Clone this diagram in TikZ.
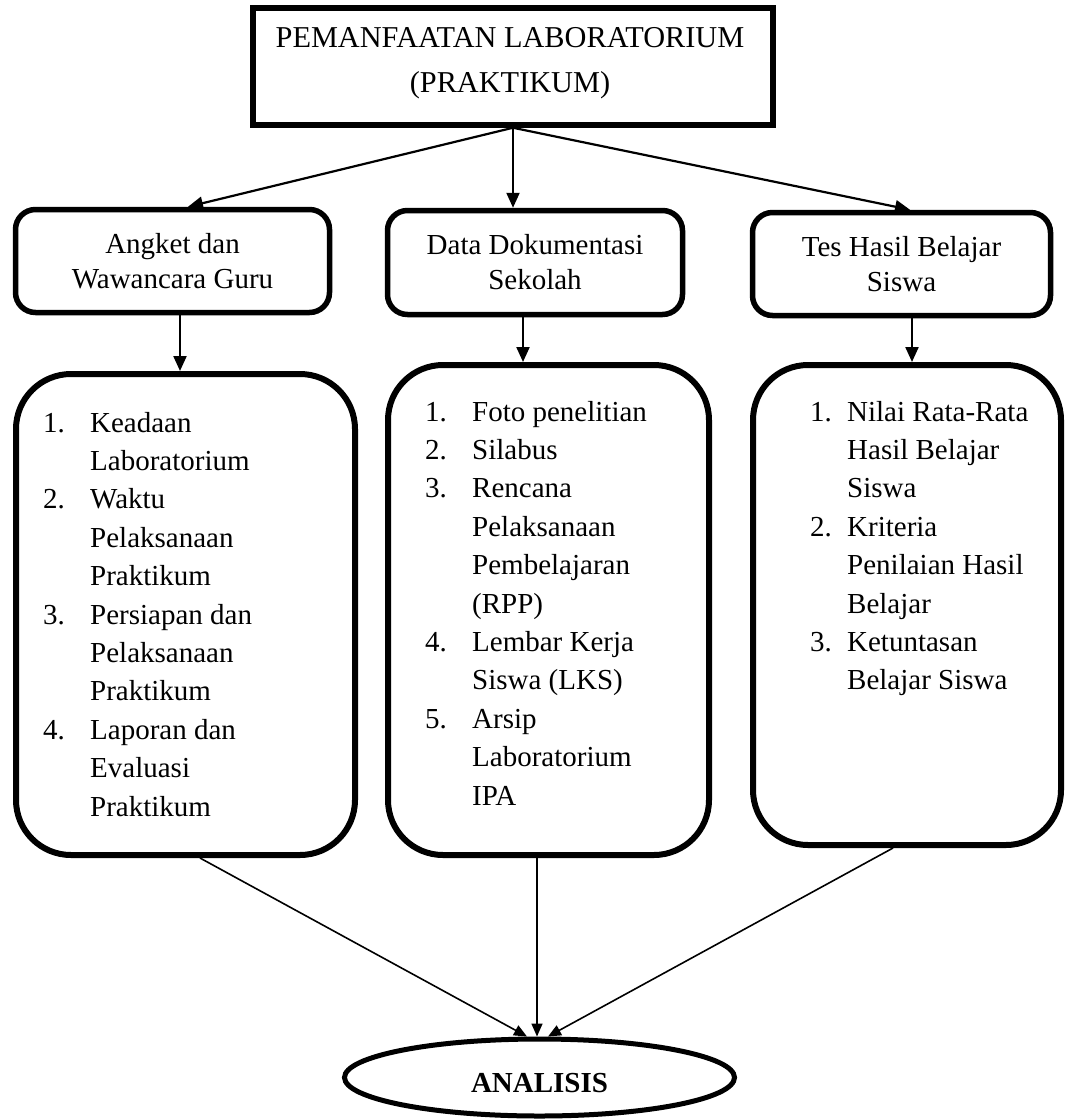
\documentclass[tikz,border=0pt]{standalone}
\usepackage{fontspec}
\setmainfont{Liberation Serif}
\usetikzlibrary{arrows.meta,shapes.geometric}
\begin{document}
\begin{tikzpicture}[x=1pt,y=-1pt,
  thickbox/.style={draw,line width=5.5pt,inner sep=0pt},
  smallbox/.style={thickbox,rounded corners=20pt,align=center,font=\fontsize{29}{35}\selectfont},
  bigbox/.style={draw,line width=6pt,rounded corners=55pt,inner sep=0pt},
  listtext/.style={anchor=north west,inner sep=0pt,font=\fontsize{29}{38.4}\selectfont},
  arr/.style={-{Triangle[length=15pt,width=13pt]},line width=2.2pt},
  arrthin/.style={-{Triangle[length=13pt,width=11pt]},line width=1.6pt}]

\useasboundingbox (0,0) rectangle (1065,1119);

% top box
\node[thickbox,minimum width=520pt,minimum height=117pt] (top) at (513,66.5) {};
\node[anchor=north,inner sep=0pt,font=\fontsize{30.3}{45}\selectfont] (ttl) at (510,15.5)
  {\begin{tabular}{@{}c@{}}PEMANFAATAN LABORATORIUM\\(PRAKTIKUM)\end{tabular}};

% small boxes
\node[smallbox,minimum width=314pt,minimum height=103pt] (ls) at (172.5,261) {Angket dan\\Wawancara Guru};
\node[smallbox,minimum width=295pt,minimum height=104pt] (ms) at (535,262.5) {Data Dokumentasi\\Sekolah};
\node[smallbox,minimum width=298pt,minimum height=103pt] (rs) at (901.5,264) {Tes Hasil Belajar\\Siswa};

% big boxes
\node[bigbox,minimum width=339pt,minimum height=481pt] (lb) at (185.5,614.5) {};
\node[bigbox,minimum width=321pt,minimum height=490pt] (mb) at (548.5,610) {};
\node[bigbox,minimum width=308pt,minimum height=480pt] (rb) at (907,605) {};

% lists
\node[listtext] (lt) at (43,405.1) {\begin{tabular}{@{}p{47pt}@{}l@{}}
1.&Keadaan\\&Laboratorium\\2.&Waktu\\&Pelaksanaan\\&Praktikum\\
3.&Persiapan dan\\&Pelaksanaan\\&Praktikum\\4.&Laporan dan\\&Evaluasi\\&Praktikum\end{tabular}};
\node[listtext] (mt) at (425,394.1) {\begin{tabular}{@{}p{47pt}@{}l@{}}
1.&Foto penelitian\\2.&Silabus\\3.&Rencana\\&Pelaksanaan\\&Pembelajaran\\&(RPP)\\
4.&Lembar Kerja\\&Siswa (LKS)\\5.&Arsip\\&Laboratorium\\&IPA\end{tabular}};
\node[listtext] (rt) at (810,394.1) {\begin{tabular}{@{}p{37pt}@{}l@{}}
1.&Nilai Rata-Rata\\&Hasil Belajar\\&Siswa\\2.&Kriteria\\&Penilaian Hasil\\&Belajar\\
3.&Ketuntasan\\&Belajar Siswa\end{tabular}};

% ellipse
\node[draw,ellipse,line width=5pt,minimum width=390pt,minimum height=77pt,inner sep=0pt] (ell) at (539.5,1077.5) {};
\node[anchor=base,inner sep=0pt,font=\fontsize{29}{35}\selectfont\bfseries] (anl) at (539.5,1092) {ANALISIS};

% helper coordinates
\coordinate (tl) at (188,0);
\coordinate (tr) at (910,0);
\coordinate (xl) at (180,0);
\coordinate (xm) at (523,0);
\coordinate (xr) at (912,0);
\coordinate (bl) at (200,0);
\coordinate (bm) at (537,0);
\coordinate (br) at (893,0);
\coordinate (el) at (527,0);
\coordinate (er) at (548,0);

% connectors
\draw[arr] (top.south) -- (tl |- ls.north);
\draw[arr] (top.south) -- (top.south |- ms.north);
\draw[arr] (top.south) -- (tr |- rs.north);
\draw[arr] (xl |- ls.south) -- (xl |- lb.north);
\draw[arr] (xm |- ms.south) -- (xm |- mb.north);
\draw[arr] (xr |- rs.south) -- (xr |- rb.north);
\draw[arrthin] (bl |- lb.south) -- (el |- ell.north);
\draw[arrthin] (bm |- mb.south) -- (bm |- ell.north);
\draw[arrthin] (br |- rb.south) -- (er |- ell.north);
\end{tikzpicture}
\end{document}
